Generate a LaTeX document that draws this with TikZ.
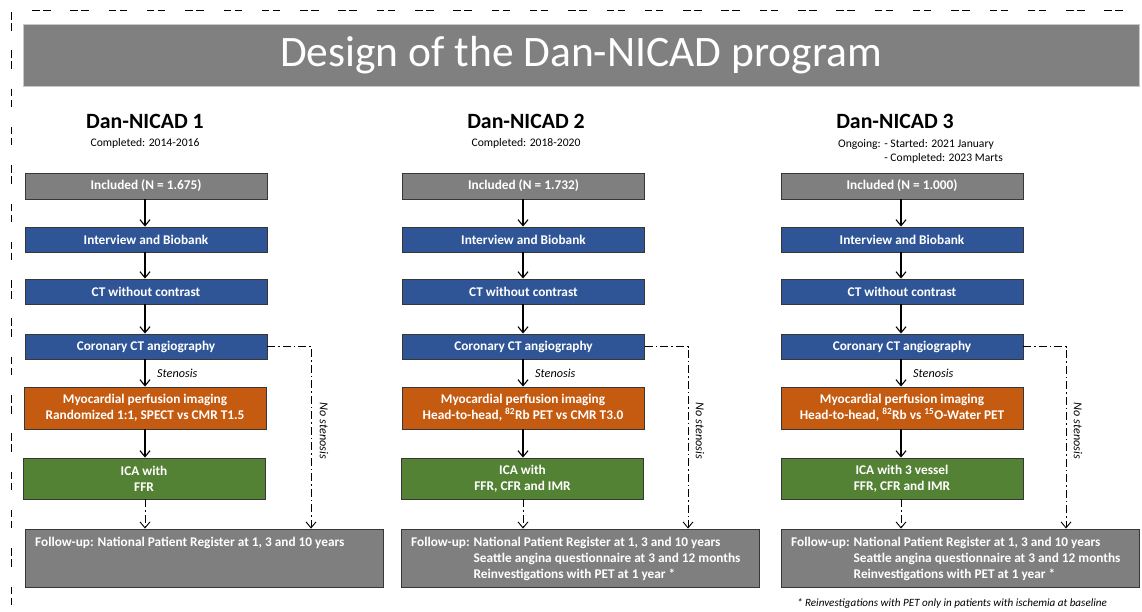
\documentclass[tikz,border=0pt]{standalone}
\usepackage{fontspec}
\setmainfont{Carlito}
\usetikzlibrary{arrows.meta}
\definecolor{ttlgray}{RGB}{128,128,128}
\definecolor{ttledge}{RGB}{200,200,200}
\definecolor{bxgray}{RGB}{127,127,127}
\definecolor{bxblue}{RGB}{47,85,151}
\definecolor{bxorange}{RGB}{197,90,17}
\definecolor{bxgreen}{RGB}{84,130,53}
\definecolor{bxedge}{RGB}{55,55,55}
\begin{document}
\begin{tikzpicture}[x=1pt,y=-1pt,
  box/.style={draw=bxedge,line width=0.9pt,text=white,font=\fontsize{13.3}{16}\selectfont\bfseries,
    align=center,inner sep=0pt,minimum width=242pt},
  graybox/.style={box,fill=bxgray},
  bluebox/.style={box,fill=bxblue},
  orangebox/.style={box,fill=bxorange},
  greenbox/.style={box,fill=bxgreen},
  fubox/.style={draw=bxedge,line width=0.9pt,fill=bxgray,inner sep=0pt,minimum width=358pt,minimum height=58pt},
  futext/.style={text=white,font=\fontsize{13.3}{16}\selectfont\bfseries,inner sep=0pt,anchor=base west},
  arr/.style={line width=1.1pt,-{Straight Barb[length=6pt,width=10pt]}},
  dd/.style={line width=0.9pt,dash pattern=on 8pt off 3pt on 1.5pt off 3pt},
  dda/.style={dd,-{Straight Barb[length=6pt,width=10pt]}},
  head/.style={font=\fontsize{21.8}{26}\selectfont\bfseries,inner sep=0pt,anchor=base},
  sub/.style={font=\fontsize{11.6}{14}\selectfont,inner sep=0pt,anchor=base},
  sten/.style={font=\fontsize{12.2}{14}\selectfont\itshape,inner sep=0pt,anchor=base west},
  nost/.style={font=\fontsize{12.2}{14}\selectfont\itshape,inner sep=0pt,rotate=-90},
  frame/.style={line width=0.8pt,dash pattern=on 7.5pt off 3.5pt on 7.5pt off 19.8pt}
]
\useasboundingbox (0,0) rectangle (1142,611);
% outer dashed frame
\draw[frame] (32,10) -- (1142,10);
\draw[frame] (11,12) -- (11,611);
% title
\node[draw=ttledge,line width=0.8pt,fill=ttlgray,minimum width=1116pt,minimum height=62pt,inner sep=0pt,
  text=white,font=\fontsize{43.5}{48}\selectfont] (title) at (581,55) {Design of the Dan-NICAD program};

% ---------------- column 1 ----------------
\node[head] (h1) at (145,128) {Dan-NICAD 1};
\node[sub] (s1) at (145,146) {Completed: 2014-2016};
\node[graybox,minimum height=26pt] (inc1) at (146,186) {Included (N = 1.675)};
\node[bluebox,minimum height=25pt] (int1) at (146,239.5) {Interview and Biobank};
\node[bluebox,minimum height=25pt] (ct1) at (146,291.5) {CT without contrast};
\node[bluebox,minimum height=25pt] (cor1) at (146,346.5) {Coronary CT angiography};
\node[orangebox,minimum height=42pt] (myo1) at (145,408) {Myocardial perfusion imaging\\Randomized 1:1, SPECT vs CMR T1.5};
\node[greenbox,minimum height=41pt] (ica1) at (144,478.5) {ICA with\\FFR};
\node[fubox] (fu1) at (204,558) {};
\node[futext] (fut1) at (35,546) {Follow-up: National Patient Register at 1, 3 and 10 years};
\node[sten] (st1) at (157,377) {Stenosis};
\coordinate (v1) at (311,0);
\node[nost] (ns1) at (324,431) {No stenosis};
\draw[arr] (inc1.south -| 145,0) -- (int1.north -| 145,0);
\draw[arr] (int1.south -| 145,0) -- (ct1.north -| 145,0);
\draw[arr] (ct1.south -| 145,0) -- (cor1.north -| 145,0);
\draw[arr] (cor1.south -| 145,0) -- (myo1.north -| 145,0);
\draw[arr] (myo1.south -| 145,0) -- (ica1.north -| 145,0);
\draw[dda] (ica1.south -| 145,0) -- (fu1.north -| 145,0);
\draw[dda] (cor1.east) -| (v1 |- fu1.north);

% ---------------- column 2 ----------------
\node[head] (h2) at (526,128) {Dan-NICAD 2};
\node[sub] (s2) at (526,146) {Completed: 2018-2020};
\node[graybox,minimum height=26pt] (inc2) at (523.5,186) {Included (N = 1.732)};
\node[bluebox,minimum height=25pt] (int2) at (523.5,239.5) {Interview and Biobank};
\node[bluebox,minimum height=25pt] (ct2) at (523.5,291.5) {CT without contrast};
\node[bluebox,minimum height=25pt] (cor2) at (523.5,346.5) {Coronary CT angiography};
\node[orangebox,minimum height=42pt] (myo2) at (523,408) {Myocardial perfusion imaging\\Head-to-head, \textsuperscript{82}Rb PET vs CMR T3.0};
\node[greenbox,minimum height=41pt] (ica2) at (522.5,478.5) {ICA with\\FFR, CFR and IMR};
\node[fubox] (fu2) at (580.5,558) {};
\node[futext] (fut2) at (411,546) {\begin{tabular}[t]{@{}l@{ }l@{}}Follow-up: & National Patient Register at 1, 3 and 10 years\\
 & Seattle angina questionnaire at 3 and 12 months\\ & Reinvestigations with PET at 1 year *\end{tabular}};
\node[sten] (st2) at (535,377) {Stenosis};
\coordinate (v2) at (688,0);
\node[nost] (ns2) at (700,431) {No stenosis};
\draw[arr] (inc2.south -| 523,0) -- (int2.north -| 523,0);
\draw[arr] (int2.south -| 523,0) -- (ct2.north -| 523,0);
\draw[arr] (ct2.south -| 523,0) -- (cor2.north -| 523,0);
\draw[arr] (cor2.south -| 523,0) -- (myo2.north -| 523,0);
\draw[arr] (myo2.south -| 523,0) -- (ica2.north -| 523,0);
\draw[dda] (ica2.south -| 523,0) -- (fu2.north -| 523,0);
\draw[dda] (cor2.east) -| (v2 |- fu2.north);

% ---------------- column 3 ----------------
\node[head] (h3) at (895,128) {Dan-NICAD 3};
\node[sub,anchor=base west] (s3) at (838,147) {\begin{tabular}[t]{@{}l@{ }l@{}}Ongoing: & - Started: 2021 January\\ & - Completed: 2023 Marts\end{tabular}};
\node[graybox,minimum height=26pt] (inc3) at (902,186) {Included (N = 1.000)};
\node[bluebox,minimum height=25pt] (int3) at (902,239.5) {Interview and Biobank};
\node[bluebox,minimum height=25pt] (ct3) at (902,291.5) {CT without contrast};
\node[bluebox,minimum height=25pt] (cor3) at (902,346.5) {Coronary CT angiography};
\node[orangebox,minimum height=42pt] (myo3) at (902,408) {Myocardial perfusion imaging\\Head-to-head, \textsuperscript{82}Rb vs \textsuperscript{15}O-Water PET};
\node[greenbox,minimum height=41pt] (ica3) at (902,478.5) {ICA with 3 vessel\\FFR, CFR and IMR};
\node[fubox] (fu3) at (960,558) {};
\node[futext] (fut3) at (791,546) {\begin{tabular}[t]{@{}l@{ }l@{}}Follow-up: & National Patient Register at 1, 3 and 10 years\\
 & Seattle angina questionnaire at 3 and 12 months\\ & Reinvestigations with PET at 1 year *\end{tabular}};
\node[sten] (st3) at (913,377) {Stenosis};
\coordinate (v3) at (1066,0);
\node[nost] (ns3) at (1078,431) {No stenosis};
\draw[arr] (inc3.south -| 901,0) -- (int3.north -| 901,0);
\draw[arr] (int3.south -| 901,0) -- (ct3.north -| 901,0);
\draw[arr] (ct3.south -| 901,0) -- (cor3.north -| 901,0);
\draw[arr] (cor3.south -| 901,0) -- (myo3.north -| 901,0);
\draw[arr] (myo3.south -| 901,0) -- (ica3.north -| 901,0);
\draw[dda] (ica3.south -| 901,0) -- (fu3.north -| 901,0);
\draw[dda] (cor3.east) -| (v3 |- fu3.north);

\node[font=\fontsize{11.1}{13}\selectfont\itshape,inner sep=0pt,anchor=base] (foot) at (952,606)
  {* Reinvestigations with PET only in patients with ischemia at baseline};
\end{tikzpicture}
\end{document}
